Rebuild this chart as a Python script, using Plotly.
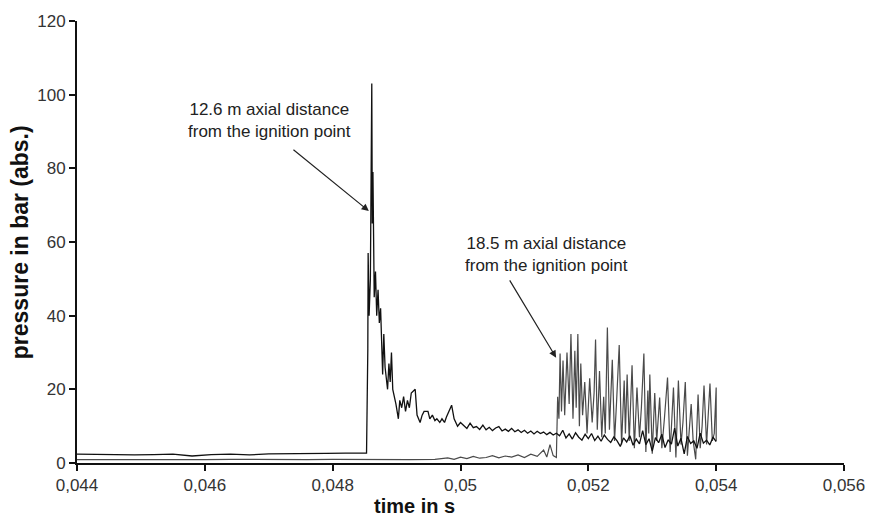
import plotly.graph_objects as go

# ---------------- data ----------------
# 12.6 m sensor
s1_base_t0 = 0.044
s1_base_dt = 0.0003
s1_base_v = [2.4, 2.3, 2.4, 2.2, 2.3, 2.4, 1.9, 2.3, 2.4, 2.2, 2.5, 2.6, 2.5, 2.6, 2.7, 2.6]

s1_peak_t = [0.04853, 0.04855, 0.048555, 0.04857, 0.04859, 0.048612, 0.04862, 0.04863,
             0.04865, 0.04867, 0.048689, 0.04871, 0.04873, 0.04875, 0.048782, 0.0488,
             0.04882, 0.048859, 0.04888, 0.0489, 0.04892, 0.04894, 0.048967, 0.04899,
             0.049028, 0.04905, 0.04908, 0.04911, 0.04914, 0.04917, 0.0492, 0.04923,
             0.049291, 0.04932, 0.049368, 0.0494, 0.04943, 0.049491, 0.04952, 0.04956,
             0.0496, 0.04963, 0.049676, 0.04971, 0.04975, 0.04978, 0.049861, 0.0499,
             0.049954, 0.05]
s1_peak_v = [2.7, 31, 57, 40, 50, 103, 65, 79,
             45, 52, 40, 47, 38, 42, 24, 35,
             26, 20, 27, 22, 30, 20, 18, 16,
             12, 17, 15, 18, 14, 17, 15, 19,
             20, 13, 11, 13, 14, 14, 12, 13,
             11.5, 12, 11, 12, 11, 12.5, 15.7, 12,
             10, 11]

s1_tail_t0 = 0.05005
s1_tail_dt = 0.00005
s1_tail_v = [10.2, 9.4, 10.8, 9.6, 9.9, 9.1, 10.3, 9.0, 9.7, 8.8, 9.5, 9.9, 8.7, 9.2, 8.6,
             9.4, 8.5, 9.0, 8.3, 8.9, 8.1, 8.7, 7.9, 8.6, 8.0, 8.4, 7.7, 8.3, 7.6, 8.1,
             7.4, 8.9, 6.8, 7.9, 6.5, 8.2, 7.0, 6.2, 7.8, 6.6, 8.0, 6.1, 7.3, 5.9, 7.6,
             6.4, 5.6, 7.1, 6.0, 4.5, 6.8, 5.7, 7.4, 4.8, 6.5, 5.2, 8.8, 5.0, 6.6, 3.2,
             6.9, 5.5, 7.8, 4.2, 6.3, 5.1, 9.5, 4.6, 6.7, 2.5, 7.2, 5.3, 6.0, 4.0, 8.1,
             5.4, 6.2, 4.9, 7.0, 5.8]

# 18.5 m sensor
s2_base_t0 = 0.044
s2_base_dt = 0.0004
s2_base_v = [0.9, 0.8, 0.9, 0.9, 0.8, 0.9, 1.0, 0.9, 0.8, 0.9, 1.0, 0.9, 1.0, 0.9, 1.0]

s2_noise_t0 = 0.0497
s2_noise_dt = 0.0001
s2_noise_v = [1.1, 1.4, 1.0, 1.6, 1.2, 1.8, 1.3, 1.5, 2.0, 1.4, 1.9, 1.6, 2.2, 1.5, 2.4, 1.8]

s2_osc_t = [0.0513, 0.05135, 0.0514, 0.05145, 0.0515, 0.05152, 0.05154, 0.051558, 0.05158,
            0.051604, 0.05163, 0.051666, 0.0517, 0.051728, 0.05176, 0.051789, 0.05181,
            0.051836, 0.05186, 0.051882, 0.05191, 0.051944, 0.05198, 0.052021, 0.05206,
            0.05209, 0.052113, 0.05214, 0.052175, 0.05221, 0.05224, 0.052265, 0.052298,
            0.05233, 0.052375, 0.05241, 0.05244, 0.052483, 0.05252, 0.052561, 0.05258,
            0.052607, 0.05264, 0.052684, 0.05272, 0.052761, 0.0528, 0.05283, 0.052869,
            0.0529, 0.052931, 0.052945, 0.052962, 0.053, 0.053039, 0.05307, 0.053116,
            0.05315, 0.05319, 0.053239, 0.05328, 0.053332, 0.05337, 0.053409, 0.05345,
            0.05348, 0.053517, 0.05355, 0.053609, 0.05364, 0.05368, 0.053717, 0.05375,
            0.05378, 0.05381, 0.05385, 0.053903, 0.05394, 0.05397, 0.054, 0.054]
s2_osc_v = [3.5, 1.6, 5.0, 2.0, 1.5, 18, 12, 29.7, 14,
            27.8, 13, 30, 16, 35, 12, 30.5, 15,
            35, 10, 27, 13, 22, 8, 23, 11,
            19, 33.5, 9, 25, 7, 18, 8, 36.8,
            9, 28, 6, 16, 32, 5, 22.4, 8,
            24, 6, 26.5, 4, 20.5, 7, 15, 29.7,
            3, 19.7, 8, 24, 2.5, 19, 6, 17.8,
            4, 12, 23.2, 3, 20.5, 1.5, 22.4, 5,
            11, 22, 2, 16, 6, 1, 18.6, 4,
            10, 21, 5, 21.6, 6, 8, 20.5, 6]

x_tickvals = [0.044, 0.046, 0.048, 0.05, 0.052, 0.054, 0.056]
x_ticktext = ["0,044", "0,046", "0,048", "0,05", "0,052", "0,054", "0,056"]
y_tickvals = [0, 20, 40, 60, 80, 100, 120]

# ------------- assemble -------------
s1_t = [s1_base_t0 + i * s1_base_dt for i in range(len(s1_base_v))] + s1_peak_t + \
       [s1_tail_t0 + i * s1_tail_dt for i in range(len(s1_tail_v))]
s1_v = s1_base_v + s1_peak_v + s1_tail_v

s2_t = [s2_base_t0 + i * s2_base_dt for i in range(len(s2_base_v))] + \
       [s2_noise_t0 + i * s2_noise_dt for i in range(len(s2_noise_v))] + s2_osc_t
s2_v = s2_base_v + s2_noise_v + s2_osc_v

fig = go.Figure()
fig.add_trace(go.Scatter(x=s2_t, y=s2_v, mode="lines",
                         line=dict(color="#4a4a4a", width=1.2), name="18.5 m"))
fig.add_trace(go.Scatter(x=s1_t, y=s1_v, mode="lines",
                         line=dict(color="#111111", width=1.3), name="12.6 m"))

font = "Arial, Liberation Sans, sans-serif"
fig.update_layout(
    width=877, height=516,
    margin=dict(l=77, r=22, t=19, b=53),
    plot_bgcolor="white", paper_bgcolor="white",
    showlegend=False,
    font=dict(family=font, size=16, color="#222"),
    xaxis=dict(range=[0.044, 0.056], tickvals=x_tickvals, ticktext=x_ticktext,
               showline=True, linecolor="#111", linewidth=2, ticks="outside",
               ticklen=6, tickwidth=2, tickcolor="#111", showgrid=False, zeroline=False,
               tickfont=dict(size=17, family=font, color="#333")),
    yaxis=dict(range=[0, 120], tickvals=y_tickvals,
               showline=True, linecolor="#111", linewidth=2, ticks="outside",
               ticklen=6, tickwidth=2, tickcolor="#111", showgrid=False, zeroline=False,
               tickfont=dict(size=17, family=font, color="#333")),
)

fig.add_annotation(text="<b>time in s</b>", xref="paper", yref="paper", x=0.44, y=-0.097,
                   showarrow=False, font=dict(size=20, family=font, color="#111"),
                   xanchor="center", yanchor="middle")
fig.add_annotation(text="<b>pressure in bar (abs.)</b>", xref="paper", yref="paper",
                   x=-0.074, y=0.5, textangle=-90, showarrow=False,
                   font=dict(size=23, family=font, color="#111"),
                   xanchor="center", yanchor="middle")

fig.add_annotation(text="12.6 m axial distance<br>from the ignition point",
                   x=0.047008, y=93.1, showarrow=False,
                   font=dict(size=17, family=font, color="#222"))
fig.add_annotation(text="", x=0.048566, y=68.4, ax=0.047363, ay=85.4,
                   axref="x", ayref="y", showarrow=True, arrowhead=2, arrowsize=1.2,
                   arrowwidth=1.2, arrowcolor="#222")
fig.add_annotation(text="18.5 m axial distance<br>from the ignition point",
                   x=0.051342, y=56.5, showarrow=False,
                   font=dict(size=17, family=font, color="#222"))
fig.add_annotation(text="", x=0.051496, y=28.6, ax=0.050756, ay=50.0,
                   axref="x", ayref="y", showarrow=True, arrowhead=2, arrowsize=1.2,
                   arrowwidth=1.2, arrowcolor="#222")

fig.write_html("out.html", config={"displayModeBar": False},
               post_script="document.body.style.margin='0';document.body.style.overflow='hidden';")
